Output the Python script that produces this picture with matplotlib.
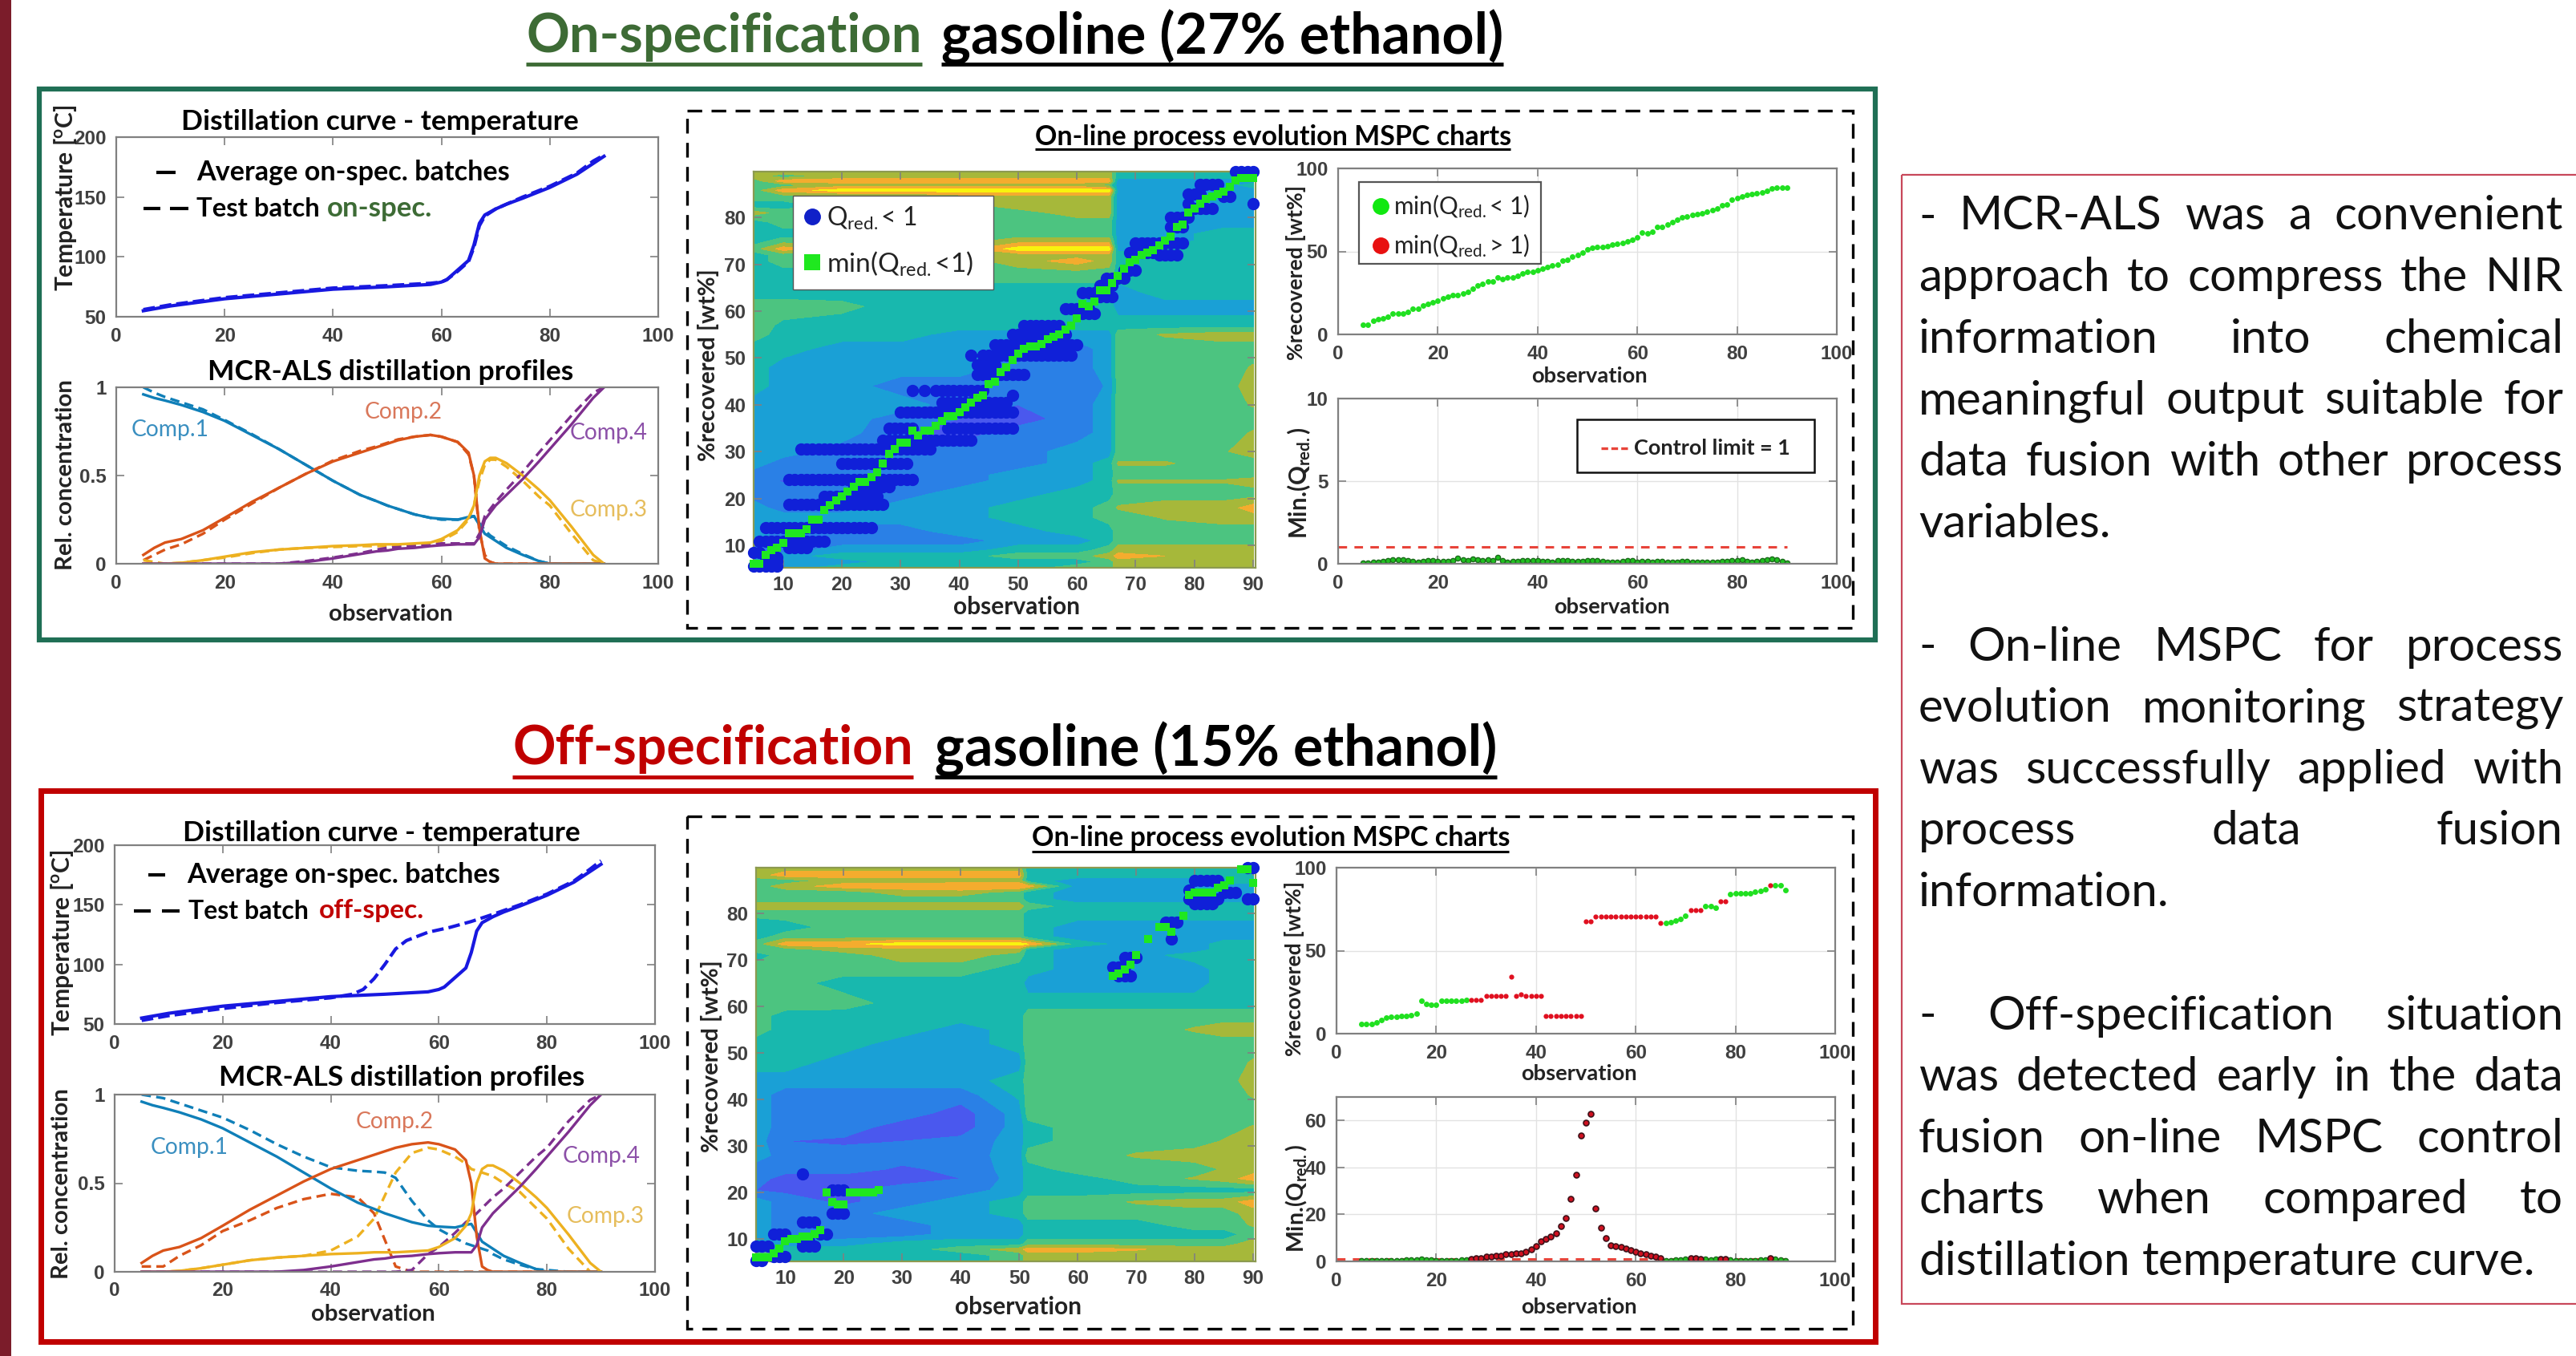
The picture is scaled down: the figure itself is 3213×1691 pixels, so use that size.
import numpy as np
import matplotlib
matplotlib.use("Agg")
from matplotlib import pyplot as plt
from matplotlib.colors import ListedColormap, BoundaryNorm
from matplotlib.patches import Rectangle

plt.rcParams['font.family'] = ['Lato', 'DejaVu Sans']
plt.rcParams['mathtext.fontset'] = 'custom'
plt.rcParams['mathtext.rm'] = 'Lato'
plt.rcParams['mathtext.bf'] = 'Lato:bold'
plt.rcParams['mathtext.it'] = 'Lato'

W, H = 3213, 1691

# distillation temperature curves
temp_x = [5, 10, 20, 30, 40, 50, 58, 60, 61, 63, 65, 66, 67, 68, 70, 72, 75, 80, 85, 88, 90]
temp_avg = [55, 59, 65, 69, 73, 75, 77, 79, 81, 89, 97, 110, 128, 135, 140, 144, 149, 158, 169, 178, 184]
temp_on = [56, 60, 66, 70, 74, 76, 78, 79, 81, 88, 96, 108, 126, 134, 140, 144, 150, 159, 170, 180, 185]
temp_off_x = [5, 10, 20, 30, 40, 44, 46, 48, 50, 52, 54, 58, 62, 66, 68, 70, 75, 80, 85, 88, 90]
temp_off = [53, 57, 63, 68, 72, 75, 79, 88, 100, 113, 120, 127, 131, 136, 139, 142, 150, 159, 170, 180, 187]

# MCR-ALS profiles
prof_x = [5, 7, 9, 12, 16, 20, 25, 30, 35, 40, 45, 48, 50, 52, 55, 58, 60, 63, 65, 66, 67, 68, 69, 70, 72, 75, 78, 80, 84, 88, 90]
avg_c1 = [.96, .94, .925, .90, .86, .81, .73, .65, .56, .47, .39, .355, .33, .31, .28, .26, .255, .25, .265, .27, .22, .17, .15, .13, .09, .05, .015, 0, 0, 0, 0]
avg_c2 = [.05, .09, .12, .14, .19, .26, .35, .43, .51, .58, .63, .66, .68, .70, .72, .73, .72, .69, .63, .50, .20, .03, .01, 0, 0, 0, 0, 0, 0, 0, 0]
avg_c3 = [0, 0, 0, .005, .02, .04, .065, .08, .09, .10, .105, .11, .11, .11, .115, .12, .14, .19, .26, .33, .50, .58, .60, .60, .57, .50, .42, .36, .21, .05, 0]
avg_c4 = [0, 0, 0, 0, 0, 0, 0, 0, .01, .03, .055, .07, .075, .085, .09, .10, .105, .11, .11, .11, .15, .25, .29, .33, .39, .48, .58, .65, .79, .94, 1]
on_c1 = [1.0, .97, .945, .915, .875, .815, .735, .65, .56, .47, .39, .355, .33, .31, .28, .26, .25, .25, .26, .27, .23, .19, .16, .14, .10, .055, .015, 0, 0, 0, 0]
on_c2 = [.02, .05, .08, .11, .17, .25, .34, .43, .51, .585, .64, .665, .685, .705, .72, .73, .72, .69, .62, .50, .18, .05, .01, 0, 0, 0, 0, 0, 0, 0, 0]
on_c3 = [.02, .01, 0, .005, .02, .035, .06, .08, .09, .095, .10, .10, .10, .105, .105, .115, .13, .18, .25, .33, .47, .56, .59, .59, .55, .47, .38, .33, .17, .02, 0]
on_c4 = [0, 0, 0, 0, 0, 0, 0, 0, .015, .035, .06, .08, .09, .095, .10, .105, .115, .115, .115, .115, .17, .27, .31, .35, .42, .52, .63, .70, .84, .97, 1]
off_c1 = [1.0, .99, .98, .95, .91, .87, .80, .72, .65, .59, .57, .565, .56, .53, .40, .29, .24, .19, .16, .15, .14, .13, .12, .10, .07, .04, .015, .01, 0, 0, 0]
off_c2 = [.03, .03, .03, .09, .15, .23, .29, .36, .41, .44, .42, .33, .18, .03, 0, 0, 0, 0, 0, 0, 0, 0, 0, 0, 0, 0, 0, 0, 0, 0, 0]
off_c3 = [0, 0, 0, .005, .02, .04, .065, .08, .09, .12, .20, .30, .43, .56, .67, .70, .69, .65, .61, .58, .57, .56, .55, .54, .50, .45, .36, .30, .13, 0, 0]
off_c4 = [0, 0, 0, 0, 0, 0, 0, 0, 0, 0, 0, 0, 0, 0, .01, .10, .14, .22, .28, .30, .33, .36, .39, .42, .47, .56, .65, .70, .85, .97, 1]

# MSPC charts, one value per observation 5..90
obs = list(range(5, 91))
min_on = [6, 6, 8, 9, 9.5, 10.5, 12.5, 12.5, 12.5, 13.5, 15.5, 15.5, 17.5, 18.5, 19.5, 20.5, 21.5, 22.5, 23.5, 23.5, 24.5, 25.5,
          27.5, 29.5, 30.5, 32, 32, 34.5, 33.5, 34.5, 34.5, 35.5, 36.5, 37.5, 37.5, 38.5, 39.5, 40.5, 41.5, 42, 44.5, 45, 47, 48,
          49.5, 51, 52, 52.5, 52.5, 53, 54, 54.5, 55, 56, 57, 58.5, 61.5, 61, 62, 64.5, 64.5, 66, 67.5, 69, 70.5, 71, 72, 72.5,
          73, 74, 75, 76, 78, 78.5, 81, 82, 83, 84, 84.5, 85, 85.5, 86.5, 88, 88.5, 88.5, 88.5]
q_on = [.05, .05, .1, .1, .15, .2, .25, .25, .25, .2, .15, .1, .15, .2, .2, .15, .15, .15, .2, .35, .25, .2, .3, .25, .2, .25,
        .2, .4, .2, .1, .15, .15, .2, .2, .2, .2, .15, .15, .1, .2, .2, .2, .15, .15, .15, .2, .2, .2, .15, .1, .1, .1, .15,
        .2, .2, .1, .15, .15, .1, .15, .15, .1, .1, .1, .15, .15, .1, .1, .1, .1, .1, .1, .15, .15, .2, .2, .25, .15, .1, .15,
        .2, .25, .3, .25, .15, .05]
min_off = [6, 6, 6, 7, 8, 9.5, 10, 10, 10.5, 10.5, 11, 12, 20, 18, 17.5, 17.5, 20, 20, 20, 20, 20, 20.5, 20.5, 20.5, 20.5,
           22.5, 22.5, 22.5, 22.5, 22.5, 34.5, 22.5, 23.5, 22.5, 22.5, 22.5, 22.5, 10.5, 10.5, 10.5, 10.5, 10.5, 10.5, 10.5, 10.5,
           67.5, 67.5, 70.5, 70.5, 70.5, 70.5, 70.5, 70.5, 70.5, 70.5, 70.5, 70.5, 70.5, 70.5, 70.5, 66.5, 66.5, 67, 68, 69, 71,
           74.5, 74.5, 74.5, 77, 77, 76, 79.5, 79.5, 84, 84.5, 84.5, 84.5, 84.5, 85.5, 86, 87, 89.5, 89.5, 89.5, 86.5]
q_off = [.3, .2, .2, .3, .4, .4, .5, .5, .5, .6, .7, .8, .9, .8, .6, .5, .5, .4, .4, .5, .6, .7, 1.1, 1.3, 1.5, 2, 2, 2.3,
         2.5, 3, 3.2, 3.5, 3.5, 4, 5, 6.5, 8.5, 9.5, 10.5, 12, 15, 18.5, 26.5, 37, 53.5, 59, 63, 22.5, 14.5, 10, 7, 6.5, 6, 5.3,
         4.8, 4.2, 3.5, 3, 2.3, 2, 1.3, .3, .5, .6, .8, .9, 1.2, 1.2, 1.1, .9, .8, .9, 1.1, 1.1, .8, .5, .4, .3, .3, .5, .7, .8, 1.2,
         .9, .7, .5]
# two more green squares that the off-spec heat map shows
off_extra_x = [72, 78]
off_extra_y = [74.5, 79.5]

# runs of points with Qred < 1: (%recovered, first observation, last observation)
runs_on = [(5.5, 5, 9), (6.5, 7, 9), (7.5, 7, 9), (8.5, 5, 6), (9.5, 11, 14), (10.8, 6, 17), (13.7, 7, 25), (18.7, 11, 27),
           (20.5, 17, 26), (22.5, 22, 28), (24, 11, 32), (27.5, 20, 31), (30.6, 13, 31), (32.5, 27, 31), (32.5, 32, 42),
           (30.5, 32, 35), (35, 28, 32), (35, 38, 49), (38.5, 30, 32), (38.5, 33, 49), (40.5, 37, 48), (43, 32, 32),
           (43, 34, 34), (43, 36, 44), (42, 49, 49), (46.5, 43, 51), (48.5, 43, 46), (50.5, 42, 42), (50.5, 44, 59),
           (52.8, 46, 60), (55, 49, 58), (57, 51, 57), (60.5, 58, 62), (59.5, 61, 63), (64, 61, 63), (63, 64, 66),
           (65.5, 64, 66), (67, 65, 68), (68.7, 68, 70), (72.5, 69, 73), (74.5, 70, 78), (72, 74, 77), (78, 76, 78),
           (80, 76, 79), (83, 79, 79), (85, 79, 81), (84.5, 85, 86), (87, 81, 84), (82, 80, 83), (89.8, 87, 90), (83, 90, 90)]
runs_off = [(5.3, 5, 6), (6.3, 8, 10), (8.5, 5, 7), (8.5, 13, 15), (11, 8, 10), (9.5, 13, 14), (11, 16, 17), (13.7, 13, 15),
            (15.5, 18, 20), (20.5, 18, 20), (24, 13, 13), (66.5, 67, 69), (68.5, 66, 68), (70.5, 68, 70), (74.5, 76, 76),
            (78, 75, 77), (83, 79, 84), (83, 89, 90), (82, 80, 83), (85, 79, 79), (84.5, 85, 87), (87, 80, 84), (89.8, 89, 90)]

# contour bands (0 violet-blue ... 7 yellow)
band_colors = ['#4a58ee', '#2a80e6', '#1aa0d6', '#18b8ae', '#4cc480', '#a6b83a', '#f4ac2e', '#f8f40e']
heat_on_x = [5, 10, 20, 30, 40, 50, 60, 65.5, 67, 75, 85, 90]
heat_on_y = [89.8, 88.8, 87.8, 86.9, 85.8, 84.5, 82.5, 81, 79, 76.5, 75, 73.3, 72, 70.7, 68, 64, 61, 57, 55, 52, 48, 44, 40, 37,
             34, 30, 27.5, 25, 23.8, 21, 18, 16, 13, 11, 9, 7.7, 6.5, 5.2]
heat_on = [
    [5, 5, 5, 5, 5, 5, 5, 5, 3, 3, 3, 3],
    [5, 4, 5, 5, 5, 5, 5, 5, 3, 3, 3, 3],
    [4, 6, 6, 6, 6, 6, 6, 6, 2, 2, 2, 2],
    [4, 4, 5, 5, 5, 5, 5, 4, 2, 2, 2, 3],
    [4, 6, 7, 7, 7, 7, 7, 7, 2, 2, 2, 2],
    [4, 4, 4, 4, 5, 5, 5, 5, 2, 2, 2, 2],
    [3, 3, 4, 4, 4, 5, 5, 5, 2, 2, 2, 2],
    [5, 4, 4, 4, 4, 4, 5, 5, 2, 2, 2, 2],
    [3, 4, 4, 4, 4, 4, 4, 4, 2, 2, 2, 2],
    [3, 3, 3, 3, 4, 4, 4, 4, 2, 2, 3, 3],
    [3, 4, 4, 4, 4, 5, 5, 5, 2, 2, 3, 3],
    [4, 6, 5, 5, 5, 7, 7, 7, 2, 3, 3, 3],
    [3, 4, 4, 4, 4, 5, 5, 5, 3, 3, 3, 3],
    [3, 4, 4, 4, 4, 5, 6, 5, 3, 3, 3, 3],
    [3, 3, 3, 4, 4, 4, 4, 4, 3, 3, 3, 3],
    [3, 3, 3, 3, 3, 3, 3, 3, 2, 3, 3, 3],
    [4, 4, 3.8, 3, 3, 3, 3, 3, 2, 2, 2, 2],
    [4, 3.3, 3, 3, 3, 3, 3, 3, 3, 3, 3, 3],
    [4, 3, 3, 3, 2, 2, 2, 2, 4, 4.6, 5, 5],
    [3, 3, 2, 2, 2, 1, 1, 2, 4, 4, 4, 4],
    [3, 2, 2, 2, 2, 1, 1, 2, 4, 4, 4, 4.6],
    [3, 2, 2, 1, 1, 1, 1, 1.6, 4, 4, 4, 5],
    [2, 2, 2, 2, 1, .5, 1, 2, 4, 4, 4, 4.6],
    [2, 2, 2, 1, .5, 0, 1, 2, 4, 4, 4, 4],
    [2, 2, 2, .5, 0, 1, 1, 2, 4, 4, 4, 4.6],
    [2, 2, 1, 1, 1, 1, 2, 2, 4, 4, 4.4, 5],
    [2, 1, 1, 1, 1, 1, 2, 3, 4.6, 4.6, 4, 4],
    [1, 1, 1, 1, 1, 2, 2, 3, 4, 4, 4, 4],
    [1, .4, 1, 1, 1, 2, 2, 3, 4.6, 4.6, 4.6, 5],
    [1, 1, 1, 1, 2, 2, 3, 3, 4, 4, 4, 4],
    [2, 1, 1, 2, 2, 3, 3, 4, 4.6, 5, 5, 6],
    [2, 2, 2, 2, 2, 3, 3, 4, 4, 4.6, 5, 5],
    [2, 1, 1, 1, 2, 2, 3, 3, 4, 4, 4, 4],
    [2, 1, 1, 1, 1, 2, 2, 3, 4, 4, 4, 4],
    [1, 1, 2, 2, 2, 3, 3, 4, 5, 5, 5, 5],
    [2, 2, 3, 3, 3, 4, 4, 5, 6, 5.5, 5, 5],
    [2, 2, 2, 3, 3, 3, 3, 4, 5, 5, 5, 5],
    [2, 2, 3, 3, 3, 3, 4, 4, 5, 5, 5, 5],
]
heat_off_x = [5, 10, 20, 30, 40, 50, 51.5, 60, 70, 80, 85, 90]
heat_off_y = [89.8, 88.2, 87, 85.8, 84.5, 83, 81.5, 80, 77, 75, 73.4, 72.2, 71, 68, 65, 60.7, 58, 55, 52, 48, 44, 41, 37, 34, 31,
              28, 25, 23, 20.5, 18, 15.5, 13, 11, 9, 7.8, 6.5, 5.2]
heat_off = [
    [5, 5, 5, 5, 5, 5, 3, 3, 3, 3, 3, 3],
    [5, 6, 6, 6, 6, 6, 3, 3, 3, 3, 3, 3],
    [4, 4, 5, 5, 5, 5, 3, 2, 2, 2, 3, 3],
    [4, 5, 6, 6, 6.4, 6.4, 6, 2, 2, 2, 2, 2],
    [4, 4, 4, 5, 5, 4, 3, 2, 2, 2, 2, 2],
    [4, 4, 4, 4, 4, 4, 3, 2, 2, 2, 2, 2],
    [5, 5, 5, 5, 5, 5, 4, 3, 3, 3, 3, 3],
    [4, 4, 4, 4, 4, 4, 3, 3, 3, 3, 3, 3],
    [2.5, 3, 4, 4, 4, 4, 3, 2, 2, 2, 2, 2],
    [3, 4, 4, 4, 4, 4, 3, 2, 2, 2, 2, 2],
    [4, 6, 6.2, 7, 7, 7, 6.5, 3, 2, 2, 3, 3],
    [4, 4, 5, 5, 5, 5, 3, 2, 2, 2, 3, 3],
    [3, 4, 4, 5, 5, 4, 3, 2, 2, 3, 3, 3],
    [4, 4, 4, 4, 4, 3, 3, 2, 2, 2, 3, 3],
    [4, 4, 3, 3, 3, 3, 2, 2, 2, 2, 3, 3],
    [4.4, 4.2, 4, 3, 3, 3, 3, 3, 3, 3, 3, 3],
    [4, 3, 3, 3, 3, 3, 4, 4, 4, 4, 4, 4],
    [4, 3, 3, 3, 2, 3, 4, 4, 4, 4.6, 5, 5],
    [3, 3, 3, 2, 2, 3, 4, 4, 4, 4, 4, 4],
    [3, 3, 2, 2, 2, 2, 4, 4, 4, 4, 4, 4.6],
    [2, 2, 2, 2, 2, 3, 4, 4, 4, 4, 4, 5],
    [2, 1, 1, 1, 1, 2.7, 4, 4, 4, 4, 4, 4.6],
    [2, 1, 1, 1, 0, 2, 4, 4, 4, 4, 4, 4],
    [2, 1, 1, 0, 0, 2, 3, 4, 4, 4, 4, 4.6],
    [2, .5, .3, .5, .8, 2, 3, 4, 4, 4, 4.6, 5],
    [2, 1, 1, 1, 1, 2, 4, 4, 4.6, 5, 5, 5],
    [1, 1, 1, .3, .8, 2, 3, 4, 4, 4, 4.6, 5],
    [1, 0, 0, 0, .5, 2, 3, 3, 4, 4.6, 5, 6],
    [.5, .3, .3, 1, 1, 2, 3, 3, 3, 3, 3, 3],
    [2, 1, .3, 1, 2, 3, 4, 4, 4.6, 5, 5, 6],
    [2, 1, 1, 2, 2, 3, 4, 4, 4, 4, 4, 5],
    [2, 1, 1, 1, 2, 2, 3, 3, 3, 4, 4, 4.6],
    [2, 1, 1, 1, 2, 2, 3, 3, 3, 3, 3, 4],
    [3, 2, 2, 3, 3, 3, 4, 4, 4, 4, 4, 5],
    [4, 3, 3, 3, 4, 5, 6, 6, 5.6, 5, 5, 5],
    [4, 3, 3, 3, 3, 4, 5, 5, 5, 5, 5, 5],
    [4, 3, 3, 3, 3, 4, 5, 5, 5, 5, 5, 5],
]

comp_colors = ['#0f7fb8', '#d95319', '#edb120', '#7e2f8e']
comp_text = ['#3a8fc0', '#d9775a', '#e6bd5c', '#8c50a8']
comp_names = ['Comp.1', 'Comp.2', 'Comp.3', 'Comp.4']
TICKC = '#404040'
FRAME = '#808080'

para = [
    ["- MCR-ALS was a convenient", "approach to compress the NIR", "information into chemical",
     "meaningful output suitable for", "data fusion with other process", "variables."],
    ["- On-line MSPC for process", "evolution monitoring strategy", "was successfully applied with",
     "process data fusion", "information."],
    ["- Off-specification situation", "was detected early in the data", "fusion on-line MSPC control",
     "charts when compared to", "distillation temperature curve."],
]
para_top = [265, 802, 1262]

fig = plt.figure(figsize=(W / 100, H / 100), dpi=100, facecolor='white')
page = fig.add_axes([0, 0, 1, 1], zorder=10)
page.set_xlim(0, W)
page.set_ylim(H, 0)
page.axis('off')
page.patch.set_alpha(0)
rend = fig.canvas.get_renderer()


def T(x, y, s, w=None, fs=20, ha='center', weight='normal', color='black', rot=0, **kw):
    t = page.text(x, y, s, fontsize=fs, ha=ha, va='center', fontweight=weight, color=color, rotation=rot, **kw)
    if w is not None:
        box = t.get_window_extent(rend)
        t.set_fontsize(fs * w / max(box.width, box.height))
    return t


def line(xs, ys, color='black', lw=2, **kw):
    page.plot(xs, ys, color=color, lw=lw, solid_capstyle='butt', **kw)


def box(x0, y0, x1, y1, color, lw, ls='-', fc='none', z=1):
    page.add_patch(Rectangle((x0, y0), x1 - x0, y1 - y0, fc=fc, ec=color, lw=lw, ls=ls, zorder=z))


def make_ax(x0, y0, x1, y1):
    ax = fig.add_axes([x0 / W, 1 - y1 / H, (x1 - x0) / W, (y1 - y0) / H])
    return ax


def style(ax, pad=6):
    ax.tick_params(direction='in', top=True, right=True, length=7, width=1.2, color=FRAME,
                   labelcolor=TICKC, labelsize=17.5, pad=pad)
    for sp in ax.spines.values():
        sp.set_color(FRAME)
        sp.set_linewidth(1.6)


def labels(ax, xl=None, yl=None, xw=None, yw=None):
    # xl / yl: (text, x pixel, y pixel)
    if xl:
        ax.set_xlabel(xl[0], fontsize=20, fontweight='bold', color='#222222', va='center', ha='center')
        ax.xaxis.set_label_coords(xl[1], xl[2], transform=page.transData)
        box_ = ax.xaxis.label.get_window_extent(rend)
        ax.xaxis.label.set_fontsize(20 * xw / box_.width)
    if yl:
        ax.set_ylabel(yl[0], fontsize=20, fontweight='bold', color='#222222', va='center', ha='center')
        ax.yaxis.set_label_coords(yl[1], yl[2], transform=page.transData)
        box_ = ax.yaxis.label.get_window_extent(rend)
        ax.yaxis.label.set_fontsize(20 * yw / box_.height)


def temp_panel(rect, test_x, test_y, title_pos, ylab):
    ax = make_ax(*rect)
    ax.plot(test_x, test_y, color='#1818e0', lw=3, ls=(0, (3.5, 1.5)))
    ax.plot(temp_x, temp_avg, color='#1818e0', lw=3)
    ax.set_xlim(0, 100)
    ax.set_ylim(50, 200)
    ax.set_xticks([0, 20, 40, 60, 80, 100])
    ax.set_yticks([50, 100, 150, 200])
    style(ax, 9)
    labels(ax, yl=('Temperature [$\\mathregular{^o}$C]', ylab, title_pos[2]), yw=233)
    ax.set_title('Distillation curve - temperature', fontsize=25.5, fontweight='bold',
                 x=(title_pos[0] - rect[0]) / (rect[2] - rect[0]),
                 y=(rect[3] - title_pos[1]) / (rect[3] - rect[1]), va='center', pad=0)
    return ax


def prof_panel(rect, tests, title_pos, ylab, xl):
    ax = make_ax(*rect)
    for c, col in zip(tests, comp_colors):
        ax.plot(prof_x, c, color=col, lw=2.4, ls=(0, (3.5, 2)))
    for c, col in zip([avg_c1, avg_c2, avg_c3, avg_c4], comp_colors):
        ax.plot(prof_x, c, color=col, lw=2.4)
    ax.set_xlim(0, 100)
    ax.set_ylim(0, 1)
    ax.set_xticks([0, 20, 40, 60, 80, 100])
    ax.set_yticks([0, 0.5, 1])
    ax.set_yticklabels(['0', '0.5', '1'])
    style(ax, 9)
    labels(ax, xl=xl, yl=('Rel. concentration', ylab[0], ylab[1]), xw=155, yw=238)
    ax.set_title('MCR-ALS distillation profiles', fontsize=25.5, fontweight='bold',
                 x=(title_pos[0] - rect[0]) / (rect[2] - rect[0]),
                 y=(rect[3] - title_pos[1]) / (rect[3] - rect[1]), va='center', pad=0)
    return ax


def heat_panel(rect, hx, hy, hz, runs, mx, my, xl, yl):
    ax = make_ax(*rect)
    levels = np.arange(-0.5, 8.5, 1)
    ax.contourf(hx, hy[::-1], np.array(hz)[::-1], levels=levels,
                cmap=ListedColormap(band_colors), norm=BoundaryNorm(levels, 8))
    for y, a, b in runs:
        xs = list(range(a, b + 1))
        ax.plot(xs, [y] * len(xs), 'o', color='#1020d8', ms=10, clip_on=False, zorder=3)
    ax.plot(mx, my, 's', color='#1fe81f', ms=7.5, mew=0, clip_on=False, zorder=4)
    ax.set_xlim(5, 90.4)
    ax.set_ylim(5.2, 89.8)
    ax.set_xticks(range(10, 100, 10))
    ax.set_yticks(range(10, 90, 10))
    style(ax, 7)
    for sp in ax.spines.values():
        sp.set_color('#8c9a50')
    labels(ax, xl=xl, yl=yl, xw=158, yw=241)
    return ax


def recov_panel(rect, x, y, q, xl, yl):
    ax = make_ax(*rect)
    x, y, q = np.array(x), np.array(y), np.array(q)
    ax.grid(color='#e2e2e2', lw=1)
    ax.set_axisbelow(True)
    ax.plot(x[q <= 1], y[q <= 1], 'o', color='#20e020', ms=5, mew=0)
    ax.plot(x[q > 1], y[q > 1], 'o', color='#e01020', ms=4.5, mew=0)
    ax.set_xlim(0, 100)
    ax.set_ylim(0, 100)
    ax.set_xticks([0, 20, 40, 60, 80, 100])
    ax.set_yticks([0, 50, 100])
    style(ax, 9)
    labels(ax, xl=xl, yl=yl, xw=145, yw=218)
    return ax


def q_panel(rect, x, q, ymax, yticks, xl, yl, yw):
    ax = make_ax(*rect)
    x, q = np.array(x), np.array(q)
    ax.grid(color='#e2e2e2', lw=1)
    ax.set_axisbelow(True)
    ax.plot([0, 90], [1, 1], color='#e8443a', lw=2.2, ls=(0, (3.5, 3)))
    ax.plot(x[q <= 1], q[q <= 1], 'o', mfc='#20c020', mec='#1a6a1a', ms=4.5, mew=1)
    ax.plot(x[q > 1], q[q > 1], 'o', mfc='#d01020', mec='#401018', ms=5, mew=1.2)
    ax.set_xlim(0, 100)
    ax.set_ylim(0, ymax)
    ax.set_xticks([0, 20, 40, 60, 80, 100])
    ax.set_yticks(yticks)
    style(ax, 9)
    labels(ax, xl=xl, yl=yl, xw=145, yw=yw)
    return ax


# page furniture
page.add_patch(Rectangle((0, 0), 14, H, fc='#7b1c2a', ec='none'))
box(49, 111, 2339, 798, '#1f6f55', 4.5)
box(51, 986, 2339, 1673, '#c00000', 5)
box(857, 138, 2311, 783, 'black', 2.4, ls=(0, (5.5, 3.5)))
box(857, 1018, 2311, 1657, 'black', 2.4, ls=(0, (5.5, 3.5)))
box(2372, 218, W + 10, 1626, '#c8485a', 1.6)

# page titles
T(1150, 46, 'On-specification', w=494, fs=42, ha='right', weight='bold', color='#3d6b35')
T(1174, 46, 'gasoline (27% ethanol)', w=701, fs=42, ha='left', weight='bold')
line([656, 1150], [80, 80], '#3d6b35', 3.5)
line([1174, 1875], [80, 80], 'black', 3.5)
T(1139, 934, 'Off-specification', w=500, fs=42, ha='right', weight='bold', color='#c00000')
T(1166, 934, 'gasoline (15% ethanol)', w=701, fs=42, ha='left', weight='bold')
line([639, 1139], [969, 969], '#c00000', 3.5)
line([1166, 1867], [969, 969], 'black', 3.5)

# on-spec panels
temp_panel((145, 171, 821, 395), temp_x, temp_on, (474, 152, 247), 82)
prof_panel((145, 483, 821, 703), [on_c1, on_c2, on_c3, on_c4], (487, 464), (82, 592),
           ('observation', 487, 766))
heat_panel((940, 214, 1566, 708), heat_on_x, heat_on_y, heat_on, runs_on, obs, min_on,
           ('observation', 1268, 757), ('%recovered [wt%]', 883, 455))
recov_panel((1669, 210, 2291, 417), obs, min_on, q_on, ('observation', 1982, 469),
            ('%recovered [wt%]', 1616, 340))
q_panel((1669, 497, 2291, 703), obs, q_on, 10, [0, 5, 10], ('observation', 2010, 757),
        ('Min.(Q$_{\\mathbf{red.}}$)', 1620, 602), 140)

# off-spec panels
temp_panel((143, 1054, 817, 1277), temp_off_x, temp_off, (476, 1039, 1176), 77)
prof_panel((143, 1365, 817, 1586), [off_c1, off_c2, off_c3, off_c4], (501, 1344), (77, 1476),
           ('observation', 465, 1639))
off_q = np.array(q_off)
heat_panel((943, 1082, 1566, 1573), heat_off_x, heat_off_y, heat_off, runs_off,
           list(np.array(obs)[off_q <= 1]) + off_extra_x, list(np.array(min_off)[off_q <= 1]) + off_extra_y,
           ('observation', 1270, 1630), ('%recovered [wt%]', 887, 1317))
recov_panel((1667, 1082, 2289, 1289), obs, min_off, q_off, ('observation', 1969, 1339),
            ('%recovered [wt%]', 1614, 1208))
q_panel((1667, 1368, 2289, 1573), obs, q_off, 70, [0, 20, 40, 60], ('observation', 1969, 1630),
        ('Min.(Q$_{\\mathbf{red.}}$)', 1617, 1494), 135)

# temperature legends, drawn by hand in the original slide
line([195, 219], [215, 215], lw=3)
T(245, 215, 'Average on-spec. batches', w=391, ha='left', weight='bold')
line([179, 200], [260, 260], lw=3)
line([212, 235], [260, 260], lw=3)
T(245, 260, 'Test batch', w=154, ha='left', weight='bold')
T(408, 260, 'on-spec.', w=132, ha='left', weight='bold', color='#3d6b35')
line([185, 206], [1091, 1091], lw=3)
T(233, 1091, 'Average on-spec. batches', w=391, ha='left', weight='bold')
line([167, 188], [1136, 1136], lw=3)
line([202, 224], [1136, 1136], lw=3)
T(235, 1136, 'Test batch', w=150, ha='left', weight='bold')
T(398, 1136, 'off-spec.', w=132, ha='left', weight='bold', color='#c00000')

# component names
comp_on_pos = [(212, 536), (503, 514), (759, 636), (759, 540)]
comp_off_pos = [(236, 1431), (492, 1399), (755, 1517), (750, 1442)]
for pos in (comp_on_pos, comp_off_pos):
    for (x, y), name, col in zip(pos, comp_names, comp_text):
        T(x, y, name, w=97, color=col)

# MSPC headers
T(1291, 171, 'On-line process evolution MSPC charts', w=593, ha='left', weight='bold')
line([1291, 1884], [186, 186], lw=2.2)
T(1287, 1045, 'On-line process evolution MSPC charts', w=595, ha='left', weight='bold')
line([1287, 1882], [1062, 1062], lw=2.2)

# heat map legend
box(989, 244, 1239, 361, '#555555', 1, fc='white', z=5)
page.plot([1013], [270], 'o', color='#1020c8', ms=14, zorder=6)
page.plot([1013], [327], 's', color='#1fe81f', ms=14, mew=0, zorder=6)
T(1031, 272, 'Q$_{\\mathregular{red.}}$< 1', w=113, ha='left', zorder=6, color='#222222')
T(1031, 329, 'min(Q$_{\\mathregular{red.}}$<1)', w=183, ha='left', zorder=6, color='#222222')

# recovered chart legend
box(1695, 227, 1922, 329, '#555555', 1.6, fc='white', z=5)
page.plot([1722], [257], 'o', color='#10e810', ms=14, zorder=6)
page.plot([1722], [306], 'o', color='#e81010', ms=14, zorder=6)
T(1738, 257, 'min(Q$_{\\mathregular{red.}}$< 1)', w=170, ha='left', zorder=6, color='#222222')
T(1738, 306, 'min(Q$_{\\mathregular{red.}}$> 1)', w=170, ha='left', zorder=6, color='#222222')

# control limit legend
box(1967, 523, 2263, 589, '#111111', 1.8, fc='white', z=5)
page.plot([1997, 2030], [559, 559], color='#e8443a', lw=2.4, ls=(0, (2.5, 1.2)), zorder=6)
T(2038, 559, 'Control limit = 1', w=195, ha='left', weight='bold', zorder=6, color='#222222')

# justified side text
fs = 42
left, right, pitch = 2393, 3197, 76.6
for lines, top in zip(para, para_top):
    for i, ln in enumerate(lines):
        words = ln.split(' ')
        y = top + i * pitch
        arts = [page.text(left, y, wd, fontsize=fs, ha='left', va='center_baseline', color='#111111') for wd in words]
        widths = [a.get_window_extent(rend).width for a in arts]
        last = i == len(lines) - 1
        gap = 15 if last else (right - left - sum(widths)) / (len(words) - 1)
        x = left
        for a, wd in zip(arts, widths):
            a.set_x(x)
            x += wd + gap

# tick labels are bold grey in the original
for ax in fig.axes:
    if ax is page:
        continue
    for lab in ax.get_xticklabels() + ax.get_yticklabels():
        lab.set_family('Liberation Sans')
        lab.set_fontweight('bold')

fig.savefig('out.png', dpi=100)
